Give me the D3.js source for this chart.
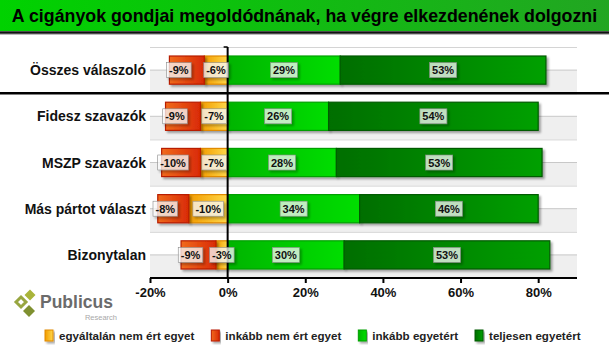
<!DOCTYPE html>
<html>
<head>
<meta charset="utf-8">
<script src="https://cdn.jsdelivr.net/npm/d3@7"></script>
<style>
    body { margin: 0; background: #fff; }
    svg { display: block; font-family: "Liberation Sans", Arial, sans-serif; }
</style>
</head>
<body>
<svg id="chart"></svg>
<script>
const title = "A cigányok gondjai megoldódnának, ha végre elkezdenének dolgozni";
const categories = ["Összes válaszoló", "Fidesz szavazók", "MSZP szavazók", "Más pártot választ", "Bizonytalan"];
const seriesNames = ["egyáltalán nem ért egyet", "inkább nem ért egyet", "inkább egyetért", "teljesen egyetért"];
const egyaltalanNem = [-6, -7, -7, -10, -3];
const inkabbNem = [-9, -9, -10, -8, -9];
const inkabbEgyet = [29, 26, 28, 34, 30];
const teljesenEgyet = [53, 54, 53, 46, 53];
const tickValues = [-20, 0, 20, 40, 60, 80];

const width = 609, height = 354;
const plot = { left: 150, right: 577, top: 47, bottom: 278 };

// gradient colours per series: [left, right, stroke]
const colors = [
    ["#f29c00", "#ffd84a", "#e08a00"],
    ["#f06a1c", "#d92a05", "#b81c00"],
    ["#00b400", "#00de00", "#00a000"],
    ["#006e00", "#00a000", "#005a00"]
];

const svg = d3.select("#chart").attr("width", width).attr("height", height);
const defs = svg.append("defs");

colors.forEach((c, i) => {
    const g = defs.append("linearGradient").attr("id", "grad" + i)
        .attr("x1", 0).attr("x2", 1).attr("y1", 0).attr("y2", 0);
    g.append("stop").attr("offset", 0).attr("stop-color", c[0]);
    g.append("stop").attr("offset", 1).attr("stop-color", c[1]);
});

const titleGrad = defs.append("linearGradient").attr("id", "titleGrad");
titleGrad.append("stop").attr("offset", 0).attr("stop-color", "#00d200");
titleGrad.append("stop").attr("offset", 1).attr("stop-color", "#22a622");

const shadow = defs.append("filter").attr("id", "shadow")
    .attr("x", "-10%").attr("y", "-20%").attr("width", "130%").attr("height", "150%");
shadow.append("feDropShadow").attr("dx", 2).attr("dy", 2).attr("stdDeviation", 1.2)
    .attr("flood-color", "#000").attr("flood-opacity", 0.35);

// title bar
svg.append("rect").attr("x", 0).attr("y", 0).attr("width", width).attr("height", 31)
    .attr("fill", "url(#titleGrad)");
svg.append("line").attr("x1", 0).attr("x2", width).attr("y1", 32.5).attr("y2", 32.5)
    .attr("stroke", "#111").attr("stroke-width", 2.5);
svg.append("line").attr("x1", 0).attr("x2", width).attr("y1", 34.5).attr("y2", 34.5)
    .attr("stroke", "#bbb").attr("stroke-width", 1);
svg.append("text").attr("x", width / 2).attr("y", 22)
    .attr("text-anchor", "middle")
    .style("font-size", "17.8px").style("font-weight", "bold").attr("fill", "#000")
    .text(title);

const x = d3.scaleLinear().domain([-20, 90]).range([plot.left, plot.right]);
const y = d3.scaleBand().domain(categories).range([plot.top, plot.bottom]);
const bw = y.bandwidth();
const barH = bw * 0.61;

// background bands
const bg = svg.append("g");
categories.forEach(c => {
    bg.append("rect").attr("x", plot.left).attr("y", y(c) + bw / 2)
        .attr("width", plot.right - plot.left).attr("height", bw / 2)
        .attr("fill", "#efefef");
    bg.append("line").attr("x1", plot.left).attr("x2", plot.right)
        .attr("y1", y(c) + 0.5).attr("y2", y(c) + 0.5).attr("stroke", "#d4d4d4");
    bg.append("line").attr("x1", plot.left).attr("x2", plot.right)
        .attr("y1", y(c) + bw / 2).attr("y2", y(c) + bw / 2).attr("stroke", "#c8c8c8");
});

// segments
const segments = [];
categories.forEach((c, i) => {
    const vals = [egyaltalanNem[i], inkabbNem[i], inkabbEgyet[i], teljesenEgyet[i]];
    const starts = [0, vals[0], 0, vals[2]];
    vals.forEach((v, s) => {
        segments.push({ cat: c, series: s, v: v, x0: starts[s], x1: starts[s] + v });
    });
});

svg.append("g").selectAll("rect")
    .data(segments)
    .join("rect")
    .attr("x", d => x(Math.min(d.x0, d.x1)))
    .attr("y", d => y(d.cat) + (bw - barH) / 2)
    .attr("width", d => Math.abs(x(d.x1) - x(d.x0)))
    .attr("height", barH)
    .attr("fill", d => `url(#grad${d.series})`)
    .attr("stroke", d => colors[d.series][2])
    .attr("stroke-width", 1.2)
    .attr("filter", "url(#shadow)");

// zero line
svg.append("line").attr("x1", x(0)).attr("x2", x(0))
    .attr("y1", plot.top).attr("y2", plot.bottom)
    .attr("stroke", "#000").attr("stroke-width", 2);
svg.append("line").attr("x1", x(0) - 4).attr("x2", x(0))
    .attr("y1", plot.top).attr("y2", plot.top)
    .attr("stroke", "#000").attr("stroke-width", 1.5);

// separator after first category
svg.append("line").attr("x1", 0).attr("x2", width)
    .attr("y1", y(categories[1])).attr("y2", y(categories[1]))
    .attr("stroke", "#000").attr("stroke-width", 2.5);

// value labels
const labels = svg.append("g");
segments.forEach(d => {
    const shift = d.series === 1 ? -8 : 0;
    const cx = x((d.x0 + d.x1) / 2) + shift;
    const cy = y(d.cat) + bw / 2;
    const g = labels.append("g");
    const t = g.append("text").attr("x", cx).attr("y", cy + 4)
        .attr("text-anchor", "middle")
        .style("font-size", "11px").style("font-weight", "bold").attr("fill", "#111")
        .text(d.v + "%");
    const w = t.node().getComputedTextLength() + 5;
    g.insert("rect", "text").attr("x", cx - w / 2).attr("y", cy - 7.5)
        .attr("width", w).attr("height", 15)
        .attr("fill", "rgba(255,255,255,0.72)")
        .attr("stroke", "#8a8a8a").attr("stroke-width", 0.6)
        .attr("filter", "url(#shadow)");
});

// category labels
svg.append("g").selectAll("text")
    .data(categories)
    .join("text")
    .attr("x", 146)
    .attr("y", c => y(c) + bw / 2 + 5)
    .attr("text-anchor", "end")
    .style("font-size", "14px").style("font-weight", "bold").attr("fill", "#111")
    .text(c => c);

// x axis
const axis = svg.append("g").attr("transform", `translate(0,${plot.bottom})`)
    .call(d3.axisBottom(x).tickValues(tickValues).tickSize(5).tickPadding(5)
        .tickFormat(d => d + "%"));
axis.select(".domain").attr("stroke", "#000").attr("stroke-width", 2)
    .attr("d", `M${plot.left},0H${plot.right}`);
axis.selectAll(".tick line").attr("stroke", "#000").attr("stroke-width", 2);
axis.selectAll(".tick text")
    .style("font-family", "'Liberation Sans Narrow', 'Arial Narrow', 'Liberation Sans', sans-serif")
    .style("font-size", "13px").style("font-weight", "bold").attr("fill", "#111");

// logo
const logo = svg.append("g");
const diamond = (cx, cy, r) => `M${cx},${cy - r}L${cx + r},${cy}L${cx},${cy + r}L${cx - r},${cy}Z`;
logo.append("path").attr("d", diamond(30, 295, 5.5)).attr("fill", "#a9b43a");
logo.append("path").attr("d", diamond(21, 302, 5)).attr("fill", "none")
    .attr("stroke", "#98a640").attr("stroke-width", 3);
logo.append("path").attr("d", diamond(29, 311, 6)).attr("fill", "#7f9030");
logo.append("text").attr("x", 40).attr("y", 308)
    .style("font-size", "17.5px").style("font-weight", "bold").attr("fill", "#6b6b6b")
    .text("Publicus");
logo.append("text").attr("x", 117).attr("y", 320).attr("text-anchor", "end")
    .style("font-size", "7.5px").attr("fill", "#a8a8a8")
    .text("Research");

// legend
const legend = svg.append("g");
let lx = 45;
seriesNames.forEach((name, i) => {
    legend.append("rect").attr("x", lx).attr("y", 330).attr("width", 8).attr("height", 11)
        .attr("fill", `url(#grad${i})`).attr("stroke", colors[i][2]).attr("stroke-width", 1)
        .attr("filter", "url(#shadow)");
    const t = legend.append("text").attr("x", lx + 14).attr("y", 340)
        .style("font-size", "11.6px").style("font-weight", "bold").attr("fill", "#222")
        .text(name);
    lx += 14 + t.node().getComputedTextLength() + 17;
});
</script>
</body>
</html>
